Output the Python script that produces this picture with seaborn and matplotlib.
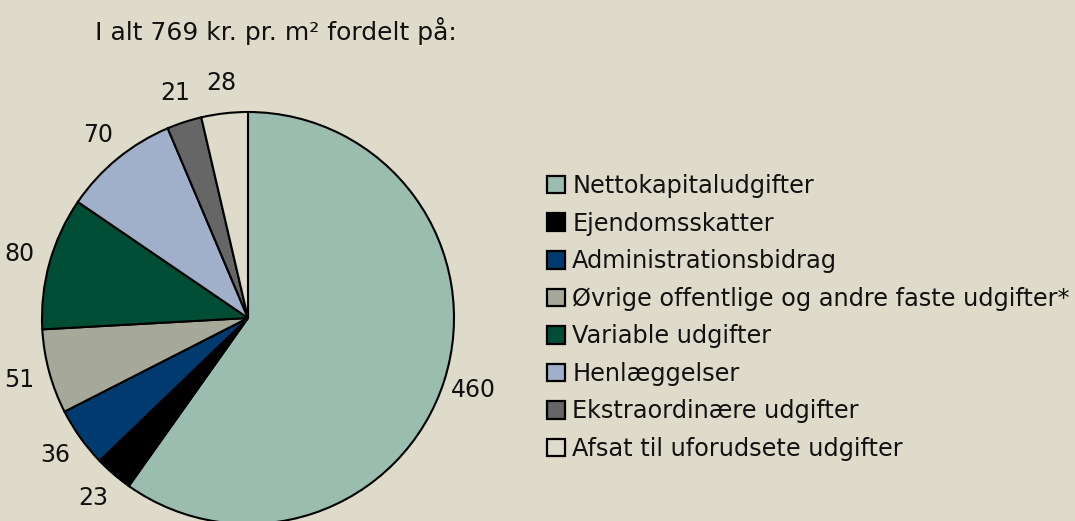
import matplotlib
matplotlib.use("Agg")
import matplotlib.pyplot as plt
import seaborn as sns

# Data
kategorier = [
    "Nettokapitaludgifter",
    "Ejendomsskatter",
    "Administrationsbidrag",
    "Øvrige offentlige og andre faste udgifter*",
    "Variable udgifter",
    "Henlæggelser",
    "Ekstraordinære udgifter",
    "Afsat til uforudsete udgifter",
]
vaerdier = [460, 23, 36, 51, 80, 70, 21, 28]
titel = "I alt 769 kr. pr. m² fordelt på:"

baggrund = "#DEDBCB"
farver = ["#9BBDB0", "#000000", "#003A6E", "#A6A899",
          "#004D36", "#A0AFCA", "#666666", baggrund]

sns.set_theme(style="white")
plt.rcParams["font.family"] = ["DejaVu Sans"]

fig = plt.figure(figsize=(10.75, 5.21), dpi=100)
fig.patch.set_facecolor(baggrund)

# pie placeret så centrum ~ (248, 318) px og radius ~206 px
ax = fig.add_axes([42 / 1075, -3 / 521, 412 / 1075, 412 / 521])
ax.set_facecolor(baggrund)

wedges, tekster = ax.pie(
    vaerdier,
    labels=[str(v) for v in vaerdier],
    colors=farver,
    startangle=90,
    counterclock=False,
    labeldistance=1.15,
    wedgeprops=dict(edgecolor="black", linewidth=1.5),
    textprops=dict(fontsize=17, color="#111111"),
)
ax.set_xlim(-1, 1)
ax.set_ylim(-1, 1)
ax.set_aspect("equal")
ax.axis("off")
for t in tekster:
    t.set_clip_on(False)
    t.set_ha("center")
    t.set_va("center")

fig.text(95 / 1075, 1 - 31 / 521, titel, fontsize=18, color="#111111",
         ha="left", va="center")

leg = fig.legend(
    wedges, kategorier,
    loc="upper left",
    bbox_to_anchor=(547 / 1075, 1 - 174 / 521),
    frameon=False,
    fontsize=17.3,
    handlelength=0.75,
    handleheight=0.75,
    handletextpad=0.3,
    labelspacing=0.565,
    borderaxespad=0,
    borderpad=0,
)
for h in leg.legend_handles:
    h.set_linewidth(1.6)
    h.set_edgecolor("black")
for t in leg.get_texts():
    t.set_color("#111111")

fig.savefig("out.png", dpi=100, facecolor=baggrund)
